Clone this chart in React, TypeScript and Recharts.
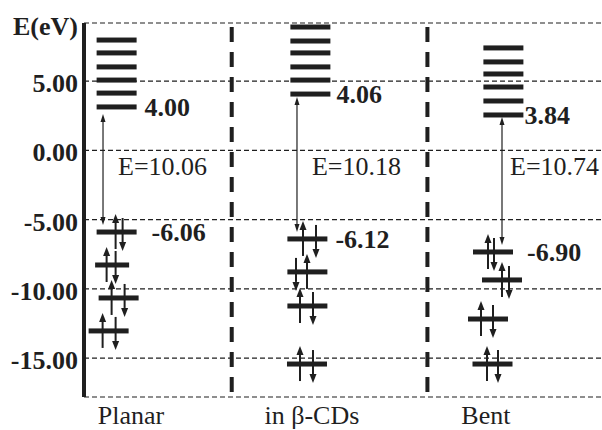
import React from 'react';
import { ComposedChart, Scatter, XAxis, YAxis, CartesianGrid, ReferenceLine } from 'recharts';

// ---- data (eV) ----
const categories = ['Planar', 'in β-CDs', 'Bent'];
const energyTicks = [5, 0, -5, -10, -15];
const planarEmpty = [7.97, 7.04, 6.03, 5.08, 4.14, 3.14];
const planarFilled = [-5.89, -8.27, -10.65, -13.03];
const cdEmpty = [8.91, 7.9, 7.04, 6.03, 5.08, 4.07];
const cdFilled = [-6.39, -8.77, -11.23, -15.42];
const bentEmpty = [7.4, 6.39, 5.52, 4.58, 3.57, 2.56];
const bentFilled = [-7.33, -9.35, -12.17, -15.42];
const lumoLabels = ['4.00', '4.06', '3.84'];
const homoLabels = ['-6.06', '-6.12', '-6.90'];
const gapLabels = ['E=10.06', 'E=10.18', 'E=10.74'];

// ---- layout (not data) ----
const INK = '#1f1f1f';
const FONT = 'Liberation Serif, DejaVu Serif, Times New Roman, serif';
const COL_X = [0.17, 1.18, 2.16];
const DIVIDER_X = [0.77, 1.79];
const CATEGORY_X = [0.245, 1.188, 2.095];
const GAP_LABEL_E = -1.1;
const EMPTY_DX = [0, 0, 5];
// [bar dx, bar width, up-arrow dx, down-arrow dx] in px relative to column
const FILLED_LAYOUT = [
  [[0, 40, -1, 6], [-4.5, 34, -10, -1], [2, 40, -5, 8], [-8, 40, -14, -1]],
  [[-3, 40, -7.4, 5.6], [-3, 40, -3.4, -14.4], [-3, 40, -10.4, 2.6], [-3.4, 40, -10.4, 2.6]],
  [[-5.4, 40, -10.4, -4.4], [3.6, 40, 3.6, 10.6], [-10.4, 40, -17.4, -5.4], [-5.9, 40, -11.4, -0.4]],
];
const LUMO_LABEL_DX = [8, 6, 1];
const HOMO_LABEL_DX = [15, 8, 14];
const TRANS_DX = [-13.6, -13.4, 3.6];
const TRANS_TOP_GAP = [7, 3, 2];
const GAP_LABEL_DX = [15, 15, 8];

const emptySets = [planarEmpty, cdEmpty, bentEmpty];
const filledSets = [planarFilled, cdFilled, bentFilled];

const emptyData = emptySets.flatMap((set, c) =>
  set.map((e, i) => ({
    x: COL_X[c],
    y: e,
    barDx: EMPTY_DX[c],
    width: 40,
    occupied: false,
    label: i === set.length - 1 ? lumoLabels[c] : null,
    labelDx: LUMO_LABEL_DX[c],
  }))
);
const filledData = filledSets.flatMap((set, c) =>
  set.map((e, i) => ({
    x: COL_X[c],
    y: e,
    barDx: FILLED_LAYOUT[c][i][0],
    width: FILLED_LAYOUT[c][i][1],
    upDx: FILLED_LAYOUT[c][i][2],
    downDx: FILLED_LAYOUT[c][i][3],
    occupied: true,
    label: i === 0 ? homoLabels[c] : null,
    labelDx: HOMO_LABEL_DX[c],
  }))
);
const gapData = gapLabels.map((g, c) => ({ x: COL_X[c], y: GAP_LABEL_E, label: g, dx: TRANS_DX[c] + GAP_LABEL_DX[c] }));

const txt = (bold: boolean) => ({ fontFamily: FONT, fontWeight: bold ? 700 : 400, fontSize: 26, fill: INK });

const Arrow = ({ x, from, to, w = 7, h = 9, sw = 2 }: any) => {
  const dir = to < from ? -1 : 1;
  const tipBase = to - dir * h;
  return (
    <g>
      <line x1={x} x2={x} y1={from} y2={tipBase} stroke={INK} strokeWidth={sw} />
      <polygon points={`${x},${to} ${x - w / 2},${tipBase} ${x + w / 2},${tipBase}`} fill={INK} />
    </g>
  );
};

const LevelShape = (props: any) => {
  const { cx, cy, payload } = props;
  if (cx == null || cy == null) return <g />;
  const center = cx + payload.barDx;
  const x0 = center - payload.width / 2;
  const x1 = center + payload.width / 2;
  return (
    <g>
      <rect x={x0} y={cy - 2.5} width={payload.width} height={5} fill={INK} />
      {payload.occupied && (
        <>
          <Arrow x={cx + payload.upDx} from={cy + 17} to={cy - 18} />
          <Arrow x={cx + payload.downDx} from={cy - 14} to={cy + 19} />
        </>
      )}
      {payload.label && (
        <text x={x1 + payload.labelDx} y={cy + 9} style={txt(true)}>
          {payload.label}
        </text>
      )}
    </g>
  );
};

const GapLabelShape = (props: any) => {
  const { cx, cy, payload } = props;
  if (cx == null || cy == null) return <g />;
  return (
    <text x={cx + payload.dx} y={cy + 9} style={txt(false)}>
      {payload.label}
    </text>
  );
};

const makeTransition = (c: number) => (p: any) => {
  const x = p.x1 + TRANS_DX[c];
  const top = Math.min(p.y1, p.y2) + TRANS_TOP_GAP[c];
  const bot = Math.max(p.y1, p.y2) - 7;
  return (
    <g>
      <line x1={x} x2={x} y1={top + 7} y2={bot - 7} stroke={INK} strokeWidth={1.2} />
      <polygon points={`${x},${top} ${x - 2.5},${top + 8} ${x + 2.5},${top + 8}`} fill={INK} />
      <polygon points={`${x},${bot} ${x - 2.5},${bot - 8} ${x + 2.5},${bot - 8}`} fill={INK} />
    </g>
  );
};

const YTick = (props: any) => {
  const { x, y, payload } = props;
  return (
    <text x={x + 2} y={y + 11} textAnchor="end" style={txt(true)}>
      {Number(payload.value).toFixed(2)}
    </text>
  );
};

const XTick = (props: any) => {
  const { x, y, payload } = props;
  const idx = CATEGORY_X.indexOf(payload.value);
  return (
    <text x={x} y={y + 19} textAnchor="middle" style={txt(false)}>
      {categories[idx]}
    </text>
  );
};

const YLabel = (props: any) => {
  const { viewBox } = props;
  return (
    <text x={viewBox.x + viewBox.width - 6} y={viewBox.y + 12} textAnchor="end" style={txt(true)}>
      E(eV)
    </text>
  );
};

export default function App() {
  return (
    <div style={{ position: 'absolute', left: 0, top: 0, width: 602, height: 430, background: '#fff' }}>
      <ComposedChart width={602} height={430} margin={{ top: 23, right: 0, bottom: 0, left: 0 }}>
        <CartesianGrid horizontal vertical={false} stroke={INK} strokeWidth={1.2} strokeDasharray="5 3" />
        <XAxis
          type="number"
          dataKey="x"
          domain={[0, 2.7]}
          ticks={CATEGORY_X}
          height={33}
          axisLine={false}
          tickLine={false}
          tick={<XTick />}
          allowDataOverflow
        />
        <YAxis
          type="number"
          dataKey="y"
          domain={[-17.8, 9.2]}
          ticks={energyTicks}
          width={84}
          axisLine={{ stroke: INK, strokeWidth: 4 }}
          tickLine={false}
          tick={<YTick />}
          label={<YLabel />}
          allowDataOverflow
        />
        {DIVIDER_X.map((dx) => (
          <ReferenceLine
            key={dx}
            segment={[{ x: dx, y: 8.91 }, { x: dx, y: -17.44 }]}
            stroke={INK}
            strokeWidth={4}
            strokeDasharray="15 10"
          />
        ))}
        {COL_X.map((cx, c) => (
          <ReferenceLine
            key={'t' + c}
            segment={[{ x: cx, y: emptySets[c][emptySets[c].length - 1] }, { x: cx, y: filledSets[c][0] }]}
            shape={makeTransition(c)}
          />
        ))}
        <Scatter data={emptyData} shape={<LevelShape />} isAnimationActive={false} />
        <Scatter data={filledData} shape={<LevelShape />} isAnimationActive={false} />
        <Scatter data={gapData} shape={<GapLabelShape />} isAnimationActive={false} />
      </ComposedChart>
    </div>
  );
}
